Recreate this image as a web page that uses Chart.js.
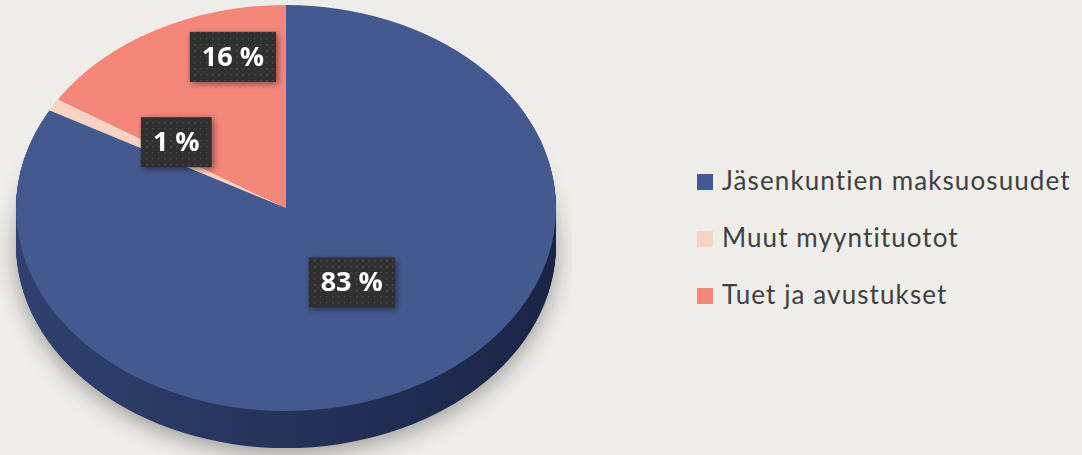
<!DOCTYPE html>
<html>
<head>
<meta charset="utf-8">
<script src="https://cdn.jsdelivr.net/npm/chart.js@4/dist/chart.umd.min.js"></script>
<style>
  html, body { margin: 0; padding: 0; overflow: hidden; background: #EFEDE9; }
  #wrap { position: relative; width: 1082px; height: 455px; overflow: hidden; background: #EFEDE9; }
  #pie { position: absolute; left: 0; top: 0; }
  #legend { position: absolute; left: 697px; top: 164px; font-family: Lato, sans-serif; font-size: 26px; color: #404040; }
  #legend div { height: 57px; display: flex; align-items: flex-start; white-space: nowrap; letter-spacing: 1.1px; }
  #legend span.box { width: 16px; height: 16px; margin: 10px 9px 0 0; flex: none; }
</style>
</head>
<body>
<div id="wrap">
  <canvas id="pie" width="572" height="540"></canvas>
  <div id="legend"></div>
</div>
<script>
// chart data
const categories = ['Jäsenkuntien maksuosuudet', 'Muut myyntituotot', 'Tuet ja avustukset'];
const shares = [83, 1, 16];
const shareLabels = ['83 %', '1 %', '16 %'];

// look
const sliceColors = ['#44598F', '#F6D3C3', '#F4867A'];
const sideColors = [['#30416F', '#1A2446'], ['#C9A99A', '#B8988A'], ['#C2675D', '#A85850']];
const tilt = 0.752;      // vertical squash of the pie top
const depth = 37;        // thickness of the pie side
const topGap = 5;
const labelRadius = [0.44, 0.52, 0.77];
const labelTurn = [-3, 8, 14];   // degrees, nudges like in the original

//legend (html)
var legendEl = document.getElementById('legend');
for (var i in categories) {
    var row = document.createElement('div');
    row.innerHTML = '<span class="box" style="background:' + sliceColors[i] + '"></span>' + categories[i];
    legendEl.appendChild(row);
}

// dotted texture for the label boxes
var dots = document.createElement('canvas');
dots.width = 6; dots.height = 6;
var dctx = dots.getContext('2d');
dctx.fillStyle = '#303030';
dctx.fillRect(0, 0, 6, 6);
dctx.fillStyle = 'rgba(255,255,255,0.13)';
dctx.fillRect(2, 2, 1.5, 1.5);

function centerY(arc) {
    return topGap + arc.outerRadius * tilt;
}

const pie3d = {
    id: 'pie3d',
    beforeDatasetsDraw(chart) {
        const ctx = chart.ctx;
        const arcs = chart.getDatasetMeta(0).data;
        const cy = centerY(arcs[0]);
        //side of the pie, stacked slices going down
        for (let d = depth; d >= 1; d--) {
            arcs.forEach((arc, i) => {
                ctx.save();
                ctx.translate(0, cy + d);
                ctx.scale(1, tilt);
                ctx.translate(0, -arc.y);
                const g = ctx.createLinearGradient(arc.x - arc.outerRadius, 0, arc.x + arc.outerRadius, 0);
                g.addColorStop(0, sideColors[i][0]);
                g.addColorStop(1, sideColors[i][1]);
                ctx.fillStyle = g;
                if (d === depth) {
                    ctx.shadowColor = 'rgba(0,0,0,0.35)';
                    ctx.shadowBlur = 22;
                    ctx.shadowOffsetY = 6;
                }
                ctx.beginPath();
                ctx.moveTo(arc.x, arc.y);
                ctx.arc(arc.x, arc.y, arc.outerRadius, arc.startAngle, arc.endAngle);
                ctx.closePath();
                ctx.fill();
                ctx.restore();
            });
        }
        //squash the top face
        ctx.save();
        ctx.translate(0, cy);
        ctx.scale(1, tilt);
        ctx.translate(0, -arcs[0].y);
    },
    afterDatasetsDraw(chart) {
        const ctx = chart.ctx;
        ctx.restore();
        const arcs = chart.getDatasetMeta(0).data;
        const cy = centerY(arcs[0]);
        ctx.save();
        ctx.font = 'bold 27px "Open Sans", sans-serif';
        ctx.textAlign = 'center';
        ctx.textBaseline = 'middle';
        arcs.forEach((arc, i) => {
            const mid = (arc.startAngle + arc.endAngle) / 2 + labelTurn[i] * Math.PI / 180;
            const r = arc.outerRadius * labelRadius[i];
            const x = arc.x + Math.cos(mid) * r;
            const y = cy + Math.sin(mid) * r * tilt;
            const w = ctx.measureText(shareLabels[i]).width + 24;
            const h = 50;
            ctx.save();
            ctx.shadowColor = 'rgba(0,0,0,0.45)';
            ctx.shadowBlur = 6;
            ctx.shadowOffsetX = 2;
            ctx.shadowOffsetY = 2;
            ctx.fillStyle = ctx.createPattern(dots, 'repeat');
            ctx.fillRect(x - w / 2, y - h / 2, w, h);
            ctx.restore();
            ctx.fillStyle = '#FFFFFF';
            ctx.fillText(shareLabels[i], x, y + 1);
        });
        ctx.restore();
    }
};

var config = {
    type: 'pie',
    data: {
        labels: categories,
        datasets: [{
            data: shares,
            backgroundColor: sliceColors,
            borderWidth: 0
        }]
    },
    options: {
        responsive: false,
        animation: false,
        layout: { padding: 0 },
        plugins: {
            legend: { display: false },
            tooltip: { enabled: false }
        }
    },
    plugins: [pie3d]
};

var pieChart = new Chart(document.getElementById('pie').getContext('2d'), config);
</script>
</body>
</html>
